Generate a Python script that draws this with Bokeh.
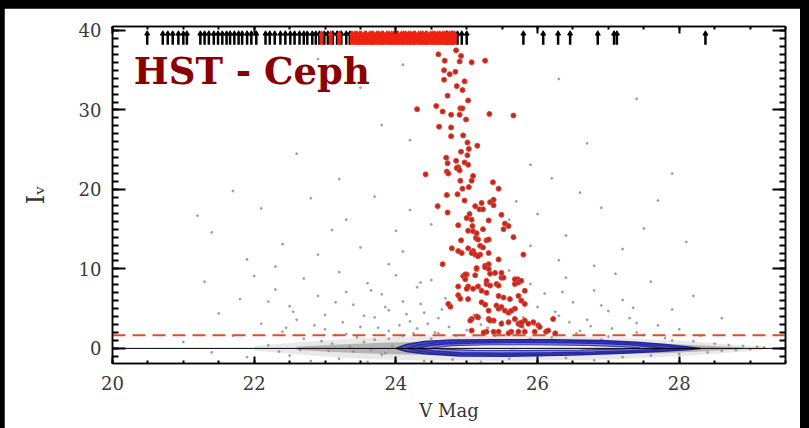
from bokeh.plotting import figure
from bokeh.models import Range1d, LinearAxis, Label, SingleIntervalTicker, Spacer, CustomLabelingPolicy
from bokeh.layouts import column, row
from bokeh.embed import file_html
from bokeh.resources import INLINE

# ---------------- data ----------------
x_ticks_major = [20, 22, 24, 26, 28]
y_ticks_major = [0, 10, 20, 30, 40]

red_v = [24.60, 24.85, 24.92, 24.69, 24.90, 25.07, 25.26, 24.68, 24.84, 24.76, 24.68, 24.97, 24.86, 24.94,
         24.73, 25.02, 24.57, 24.30, 24.66, 24.91, 24.94, 24.78, 24.90, 25.32, 25.66, 24.99, 24.61, 24.78,
         24.95, 24.78,
         25.01, 25.15, 24.92, 25.03, 25.01, 24.71, 24.85, 24.97, 24.73, 25.02, 24.88, 24.86, 24.90, 24.72,
         24.74, 24.42, 25.09, 24.91, 25.07, 25.37, 25.03, 24.94, 25.45, 24.87, 24.72, 24.97, 25.38, 25.21,
         25.33, 25.12, 25.38, 24.59, 25.18, 25.23, 24.73, 25.04, 25.49, 25.00, 25.07, 25.31, 25.54, 25.59,
         24.88, 25.08, 25.02, 25.09, 25.23, 25.52, 25.14, 25.66, 25.13, 25.16, 25.28, 24.92, 24.79, 24.88,
         25.02, 25.09, 25.19, 24.93, 25.80, 25.45, 24.66, 25.14, 25.26, 25.31, 25.00, 24.95, 25.12, 25.33,
         25.49, 25.49, 25.72, 24.88, 25.02, 25.16, 25.28, 25.42, 25.68,
         25.31, 25.19, 25.23, 25.07, 25.12, 25.16, 25.31, 25.31, 25.26, 25.14, 24.98, 25.40, 25.52, 25.68,
         25.73, 25.77, 25.82, 24.98, 25.28, 25.33, 25.45, 25.00, 25.09, 25.21, 25.28, 24.88, 25.02, 24.77,
         25.45, 25.52, 25.61, 25.73, 25.77, 25.82, 25.21, 25.26, 25.42, 25.45, 25.49, 25.54, 25.59, 25.63,
         25.68, 25.31, 25.14, 25.07, 25.31, 25.38, 25.68, 25.73, 25.77, 25.82, 25.87, 25.94, 26.01, 26.22,
         25.49, 25.59, 25.28, 25.38, 25.45, 25.63, 25.73, 25.82, 25.96, 26.12, 26.03, 25.07, 25.16, 25.33,
         25.77, 26.15, 25.24, 25.59, 26.25, 24.74, 24.91, 25.05]
red_i = [37.0, 37.5, 36.8, 36.2, 36.1, 36.0, 36.2, 35.0, 34.8, 34.5, 33.8, 33.6, 33.0, 32.5,
         31.8, 31.2, 30.5, 30.1, 29.8, 30.2, 30.2, 29.4, 29.4, 29.5, 29.3, 28.8, 27.9, 27.8,
         26.8, 26.7,
         25.9, 25.5, 24.75, 25.1, 24.3, 24.0, 23.6, 23.4, 23.3, 23.1, 22.8, 22.7, 22.4, 22.25,
         22.0, 21.9, 21.7, 21.1, 21.1, 20.9, 20.3, 20.1, 20.1, 19.4, 19.3, 18.6, 18.7, 18.3,
         18.4, 17.9, 18.0, 17.9, 17.5, 17.5, 17.1, 16.9, 16.8, 16.4, 16.2, 16.1, 15.7, 15.4,
         15.5, 15.4, 14.8, 14.75, 15.0, 15.0, 14.5, 14.0, 13.9, 13.7, 13.6, 13.6, 12.6, 12.25,
         12.6, 12.25, 11.8, 12.0, 11.8, 11.2, 10.6, 10.0, 10.4, 10.0, 9.3, 9.1, 9.2, 9.4,
         9.5, 8.9, 8.7, 7.8, 7.8, 7.8, 8.1, 8.1, 8.1,
         13.7, 12.9, 12.7, 12.0, 11.8, 11.6, 12.0, 10.6, 10.2, 10.1, 9.3, 9.5, 8.9, 8.7,
         8.3, 8.5, 7.25, 8.7, 8.5, 7.9, 7.9, 7.5, 7.5, 7.25, 7.0, 6.7, 6.2, 5.25,
         6.6, 6.4, 6.2, 6.6, 6.0, 5.6, 5.8, 5.5, 5.4, 5.0, 5.2, 4.75, 4.5, 4.75,
         5.0, 4.75, 4.0, 3.7, 3.7, 3.5, 3.7, 3.1, 2.9, 3.5, 3.1, 3.3, 2.9, 3.7,
         3.1, 3.3, 2.1, 2.1, 2.1, 2.1, 2.1, 2.1, 2.1, 2.1, 2.7, 2.25, 3.9, 3.5,
         3.25, 2.25, 2.0, 1.9, 1.9, 5.6, 6.25, 3.5]

black_arrow_v = [20.49, 20.71, 20.78, 20.85, 20.93, 21.0, 21.05, 21.24, 21.3, 21.36, 21.43, 21.49, 21.55,
                 21.61, 21.66, 21.72, 21.78, 21.83, 21.9, 21.96, 22.03, 22.16, 22.22, 22.29, 22.37, 22.44,
                 22.51, 22.57, 22.64, 22.7, 22.75, 22.82, 22.87, 22.92, 22.99, 23.04, 23.11, 23.17, 23.23,
                 23.3, 23.35, 24.72, 24.8, 24.87, 24.93, 25.0, 25.8, 26.08, 26.29, 26.46, 26.85, 27.08,
                 27.12, 28.37]
red_arrow_v = [22.95, 23.08, 23.2, 23.38, 23.42, 23.45, 23.49, 23.51, 23.56, 23.58, 23.63, 23.66, 23.68,
               23.73, 23.76, 23.8, 23.82, 23.87, 23.9, 23.94, 23.97, 24.01, 24.03, 24.08, 24.11, 24.14,
               24.18, 24.21, 24.25, 24.27, 24.32, 24.35, 24.38, 24.42, 24.44, 24.49, 24.52, 24.55, 24.59,
               24.62, 24.66, 24.69, 24.73, 24.76, 24.79, 24.83]

gray_v = [22.9, 23.5, 24.1, 26.3, 27.4, 23.8, 26.7, 22.6, 27.9, 23.2, 25.9, 24.2, 21.7, 26.2,
          22.1, 22.8, 23.3, 23.7, 24.0, 24.2, 25.7, 26.0, 26.4, 26.9, 27.5, 28.1, 21.4, 22.4, 22.9,
          23.5, 23.9, 24.1, 25.9, 26.3, 26.8, 27.2, 21.9, 23.1, 24.5, 25.6, 27.7, 22.3, 26.6, 21.2,
          21.3, 21.8, 22.0, 22.3, 22.5, 22.7, 22.9, 23.0, 23.2, 23.3, 23.4, 23.6, 23.7, 23.8, 23.9,
          24.0, 24.1, 24.2, 24.3, 24.4, 24.5, 24.6, 24.7, 25.6, 25.9, 26.0, 26.1, 26.3, 26.4, 26.5,
          26.7, 26.8, 27.0, 27.2, 27.4, 27.6, 27.9, 28.2, 28.6, 21.5, 22.1, 22.6, 25.2, 25.8, 27.1,
          21.0, 21.4, 21.7, 21.9, 22.2, 22.4, 22.5, 22.7, 22.8, 23.0, 23.1, 23.2, 23.3, 23.4, 23.5,
          23.6, 23.7, 23.8, 23.9, 24.0, 24.1, 24.3, 24.4, 24.6, 24.8, 25.0, 25.2, 25.4, 25.6, 25.8,
          26.0, 26.2, 26.4, 26.6, 26.8, 27.0, 27.2, 27.4, 27.6, 27.8, 28.0, 28.2, 28.4, 28.5, 28.6,
          28.7, 28.8, 28.9, 29.0, 29.1, 29.2, 23.05, 23.35, 23.65, 23.95, 22.95, 23.55, 23.85, 22.65,
          22.35,
          22.55, 22.85, 23.15, 23.25, 23.45, 23.55, 23.75, 23.85, 24.05, 24.15, 24.25, 24.35, 24.45,
          24.55, 24.65, 24.75, 24.85, 25.1, 25.3, 25.5, 25.7, 25.95, 26.15, 26.25, 26.45, 26.55,
          26.75, 26.9, 27.05, 27.3, 27.5, 27.7, 22.2, 22.45, 23.65, 24.35, 26.35, 27.35, 28.0, 28.3,
          23.15, 23.9, 24.5, 25.9, 26.9, 27.9]
gray_i = [36.4, 32.8, 35.7, 33.9, 31.4, 28.1, 25.8, 24.5, 22.0, 21.3, 23.1, 26.2, 19.8, 21.4,
          17.6, 18.9, 16.2, 19.1, 14.8, 17.4, 18.5, 16.9, 14.2, 17.7, 15.1, 13.4, 14.6, 13.1, 11.8,
          12.7, 10.6, 12.2, 12.9, 11.1, 10.4, 12.5, 11.2, 14.9, 15.6, 16.2, 18.6, 10.3, 19.6, 16.7,
          8.4, 6.2, 9.1, 7.4, 5.3, 8.8, 6.6, 4.2, 9.6, 7.1, 5.5, 8.2, 3.9, 6.8, 4.8,
          9.2, 5.9, 3.4, 7.7, 4.5, 8.6, 3.8, 6.3, 9.8, 8.1, 5.2, 6.9, 4.1, 8.9, 5.8,
          3.6, 7.3, 4.7, 6.1, 3.2, 8.4, 4.9, 6.6, 3.8, 4.4, 3.1, 3.6, 3.0, 3.9, 9.4,
          0.8, -0.5, 1.6, -1.1, 0.4, 2.1, -0.9, 1.2, -1.6, 2.4, 0.6, -1.3, 1.8, -0.4, 2.7,
          -1.7, 1.1, -0.8, 2.2, -1.5, 1.6, 2.5, -1.6, 1.9, -1.4, 2.3, -1.7, 1.6, -1.3, 2.6,
          -1.6, 1.4, -1.2, 2.2, -1.5, 1.5, -1.1, 2.0, -0.9, 1.3, -0.7, 0.9, -0.5, 0.6, -0.3,
          0.4, -0.2, 0.3, -0.1, 0.2, 0.1, -0.3, 0.2, -0.2, 0.3, 0.9, 0.8, -0.6, -0.2,
          -0.4,
          4.6, 2.9, 5.8, 3.3, 1.4, 4.1, 2.6, 5.2, 2.9, 4.3, 1.9, 5.6, 3.1,
          2.0, 4.9, 2.7, 1.6, 4.2, 2.6, 3.4, 1.8, 3.0, 2.4, 4.6, 3.3, 1.9,
          2.8, 5.4, 2.5, 3.8, 1.7, 2.9, 5.9, 2.6, 7.3, 8.3, 7.1, 5.1, 2.4, 1.6,
          1.7, 1.2, 1.2, 1.2, 1.1, 1.0]

band_v = [22.0, 22.8, 23.5, 24.2, 25.5, 27.0, 28.0, 28.6, 29.2]
band_lo = [-0.3, -0.9, -1.3, -1.5, -1.6, -1.4, -1.0, -0.6, -0.2]
band_hi = [0.3, 0.9, 1.3, 1.5, 1.6, 1.4, 1.0, 0.6, 0.2]
core_v = [22.6, 23.2, 23.8, 24.3, 27.8, 28.5, 28.9]
core_lo = [-0.2, -0.5, -0.7, -0.8, -0.6, -0.3, -0.1]
core_hi = [0.2, 0.5, 0.7, 0.8, 0.6, 0.3, 0.1]

contA_v = [24.0, 24.15, 24.4, 24.8, 25.4, 26.2, 26.9, 27.4, 27.8, 28.1, 28.3, 28.1, 27.7, 27.2, 26.5,
           25.6, 24.9, 24.4, 24.15, 24.0]
contA_i = [0.0, 0.5, 0.88, 1.05, 1.1, 1.1, 1.0, 0.78, 0.5, 0.22, 0.0, -0.18, -0.4, -0.62, -0.82,
           -0.98, -0.95, -0.68, -0.4, 0.0]
contB_v = [24.15, 24.3, 24.55, 25.0, 25.6, 26.3, 26.9, 27.35, 27.7, 27.95, 28.1, 27.9, 27.5, 27.0,
           26.4, 25.6, 24.95, 24.5, 24.3, 24.15]
contB_i = [0.0, 0.4, 0.7, 0.86, 0.92, 0.92, 0.8, 0.62, 0.38, 0.16, 0.0, -0.13, -0.32, -0.52,
           -0.68, -0.8, -0.78, -0.55, -0.3, 0.0]
contC_v = [24.3, 24.45, 24.7, 25.1, 25.7, 26.4, 26.9, 27.3, 27.6, 27.8, 27.6, 27.3, 26.8, 26.2,
           25.5, 24.9, 24.55, 24.3]
contC_i = [0.0, 0.32, 0.55, 0.68, 0.74, 0.72, 0.62, 0.45, 0.22, 0.0, -0.16, -0.3, -0.45, -0.56,
           -0.6, -0.55, -0.33, 0.0]
contD_v = [24.5, 24.8, 25.3, 26.0, 26.7, 27.2, 27.45, 27.2, 26.6, 25.8, 25.1, 24.7, 24.5]
contD_i = [0.05, 0.36, 0.46, 0.46, 0.39, 0.23, 0.05, -0.1, -0.21, -0.27, -0.24, -0.13, 0.05]

cut_level = 1.65
zero_level = 0.0

# ---------------- figure ----------------
p = figure(width=796, height=420, x_range=Range1d(20, 29.5), y_range=Range1d(-1.9, 40.5),
           output_backend="svg", toolbar_location=None,
           min_border_left=108, min_border_right=11, min_border_top=18, min_border_bottom=65)
p.grid.visible = False
p.background_fill_color = "white"
p.border_fill_color = "white"
p.outline_line_color = "black"
p.outline_line_width = 1.5

FONT = "DejaVu Serif"
p.xaxis.ticker = SingleIntervalTicker(interval=2, num_minor_ticks=4)
p.yaxis.ticker = SingleIntervalTicker(interval=10, num_minor_ticks=10)

for ax in (p.xaxis[0], p.yaxis[0]):
    ax.major_tick_out = 0
    ax.minor_tick_out = 0
    ax.major_tick_line_width = 2
    ax.minor_tick_line_width = 2
    ax.axis_line_width = 1.5
    ax.major_label_text_font = FONT
    ax.major_label_text_font_size = "18px"
    ax.major_label_text_color = "#3a3a3a"
    ax.axis_label_text_font = FONT
    ax.axis_label_text_font_style = "normal"
    ax.axis_label_text_color = "#333333"

p.xaxis.major_tick_in = 7
p.xaxis.minor_tick_in = 3
p.xaxis.major_label_standoff = 12
p.xaxis.axis_label = "V Mag"
p.xaxis.axis_label_text_font_size = "18px"
p.xaxis.axis_label_standoff = 7

p.yaxis.major_tick_in = 13
p.yaxis.minor_tick_in = 6
p.yaxis.major_label_standoff = 11
p.yaxis.axis_label = "Iᵥ"
p.yaxis.axis_label_text_font_size = "24px"
p.yaxis.axis_label_standoff = 26

no_labels = CustomLabelingPolicy(code="""
for (const i of indices) indices.unset(i)
return indices
""")
top = LinearAxis(ticker=SingleIntervalTicker(interval=2, num_minor_ticks=4),
                 major_label_policy=no_labels, major_tick_out=0, minor_tick_out=0,
                 major_tick_in=7, minor_tick_in=3, major_tick_line_width=2, minor_tick_line_width=2,
                 major_label_standoff=0, axis_line_width=1.5)
right = LinearAxis(ticker=SingleIntervalTicker(interval=10, num_minor_ticks=10),
                   major_label_policy=CustomLabelingPolicy(code="""
for (const i of indices) indices.unset(i)
return indices
"""), major_tick_out=0, minor_tick_out=0,
                   major_tick_in=13, minor_tick_in=6, major_tick_line_width=2, minor_tick_line_width=2,
                   major_label_standoff=0, axis_line_width=1.5)
p.add_layout(top, "above")
p.add_layout(right, "right")

# gray field stars
p.varea(x=band_v, y1=band_lo, y2=band_hi, fill_color="#9a9a9a", fill_alpha=0.22)
p.varea(x=core_v, y1=core_lo, y2=core_hi, fill_color="#555555", fill_alpha=0.35)
p.scatter(gray_v, gray_i, size=2, color="#8a8a8a", alpha=0.7)

# blue contours
p.patch(contA_v, contA_i, fill_color="#3434b0", fill_alpha=0.75, line_color="#22229a", line_width=1.5)
p.patch(contB_v, contB_i, fill_color="#5050c0", fill_alpha=0.6, line_color="#2a2aa8", line_width=1.5)
p.patch(contC_v, contC_i, fill_color="#a8a8e4", fill_alpha=0.7, line_color="#2a2aa8", line_width=1.5)
p.patch(contD_v, contD_i, fill_color="#ffffff", fill_alpha=0.85, line_color="#3a3ab8", line_width=1.2)

# reference lines
p.line([20, 29.5], [zero_level, zero_level], line_color="black", line_width=1)
p.line([20, 29.5], [cut_level, cut_level], line_color="#d9502e", line_width=2, line_dash="13 7")

# red variable candidates
p.scatter(red_v, red_i, size=5, fill_color="#b82a26", line_color="#e8412c", line_width=1)

# upper-limit arrows at the top
p.segment(x0=black_arrow_v, y0=38.2, x1=black_arrow_v, y1=39.5, line_color="black", line_width=2.5)
p.scatter(black_arrow_v, 39.6, marker="triangle", size=5, color="black")
p.segment(x0=red_arrow_v, y0=38.2, x1=red_arrow_v, y1=39.5, line_color="#ee2211", line_width=4)
p.scatter(red_arrow_v, 39.6, marker="triangle", size=5, color="#ee2211")

p.add_layout(Label(x=20.30, y=34.9, text="HST - Ceph", text_font=FONT, text_font_style="bold",
                   text_font_size="37px", text_color="#8b0000", text_baseline="alphabetic"))

page = column(Spacer(width=809, height=8),
              row(Spacer(width=4, height=420), p, Spacer(width=9, height=420)),
              styles={"background-color": "black"})

open("out.html", "w").write(file_html(page, INLINE))
